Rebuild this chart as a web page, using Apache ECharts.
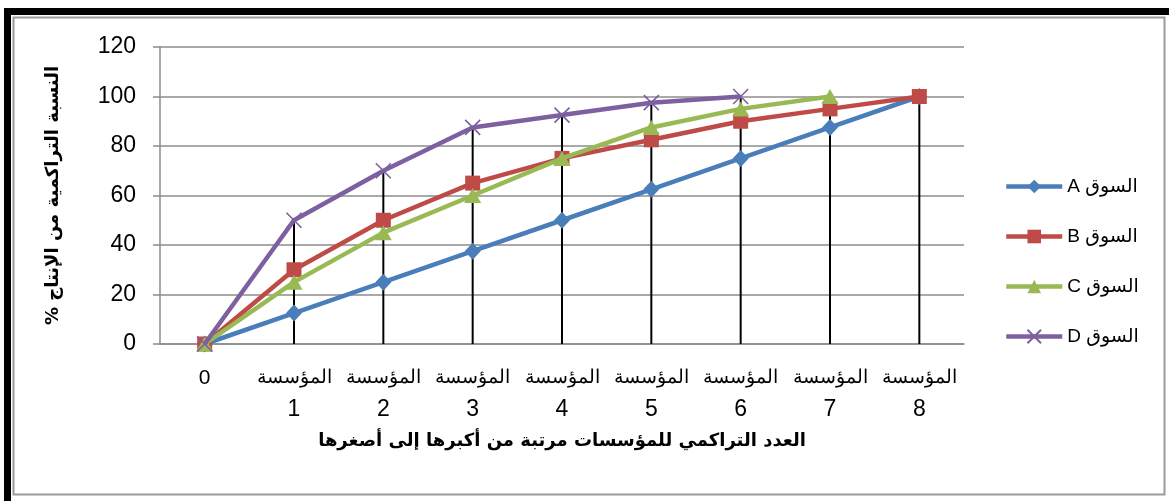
<!DOCTYPE html>
<html>
<head>
<meta charset="utf-8">
<style>
html,body{margin:0;padding:0;background:#fff;}
#chart{width:1169px;height:501px;}
</style>
<script src="https://cdn.jsdelivr.net/npm/echarts@6/dist/echarts.min.js"></script>
</head>
<body>
<div id="chart"></div>
<script>
const categories = ['0', 'المؤسسة\n1', 'المؤسسة\n2', 'المؤسسة\n3', 'المؤسسة\n4', 'المؤسسة\n5', 'المؤسسة\n6', 'المؤسسة\n7', 'المؤسسة\n8'];
const seriesNames = ['السوق A', 'السوق B', 'السوق C', 'السوق D'];
const seriesA = [0, 12.5, 25, 37.5, 50, 62.5, 75, 87.5, 100];
const seriesB = [0, 30, 50, 65, 75, 82.5, 90, 95, 100];
const seriesC = [0, 25, 45, 60, 75, 87.5, 95, 100];
const seriesD = [0, 50, 70, 87.5, 92.5, 97.5, 100];
const yTicks = [0, 20, 40, 60, 80, 100, 120];
const yTitle = 'النسبة التراكمية من الإنتاج %';
const xTitle = 'العدد التراكمي للمؤسسات مرتبة من أكبرها إلى أصغرها';

const allSeries = [seriesA, seriesB, seriesC, seriesD];
const dropData = categories.map((c, i) => {
  const vals = allSeries.map(s => s[i]).filter(v => v !== undefined && v !== null);
  return vals.length ? Math.max.apply(null, vals) : null;
});

const colors = ['#4A7EBB', '#BE4B48', '#98B954', '#7D60A0'];
const symbols = ['diamond', 'rect', 'triangle', 'path://M0,0L10,10M10,0L0,10'];
const symSizes = [[16, 17], 15, [17, 15], 15];
const RLE = '\u202B', PDF = '\u202C';

const chart = echarts.init(document.getElementById('chart'), null, {renderer: 'canvas'});
const lineSeries = allSeries.map((data, k) => ({
  name: seriesNames[k],
  type: 'line',
  data: data,
  z: 3 + k,
  symbol: symbols[k],
  symbolSize: symSizes[k],
  showAllSymbol: true,
  lineStyle: {color: colors[k], width: 4.5},
  itemStyle: k === 3
    ? {color: colors[k], borderColor: colors[k], borderWidth: 1.6}
    : {color: colors[k], borderWidth: 0},
  emphasis: {disabled: true},
  animation: false
}));

chart.setOption({
  animation: false,
  backgroundColor: '#ffffff',
  graphic: [
    {type: 'rect', shape: {x: 4, y: 8, width: 1165, height: 7}, style: {fill: '#000'}, silent: true},
    {type: 'rect', shape: {x: 4, y: 8, width: 7, height: 493}, style: {fill: '#000'}, silent: true},
    {type: 'rect', shape: {x: 13.5, y: 17.5, width: 1151, height: 477}, style: {fill: 'none', stroke: '#9a9a9a', lineWidth: 2}, silent: true}
  ],
  grid: {left: 160, right: 205, top: 47, bottom: 157, containLabel: false},
  legend: {
    orient: 'vertical',
    left: 999,
    top: 172,
    itemWidth: 56,
    itemHeight: 17,
    itemGap: 31,
    data: seriesNames,
    formatter: n => RLE + n + PDF,
    lineStyle: {width: 4.5},
    textStyle: {fontFamily: 'Liberation Sans, DejaVu Sans', fontSize: 19, color: '#000'}
  },
  xAxis: {
    type: 'category',
    data: categories,
    boundaryGap: true,
    axisLine: {show: true, lineStyle: {color: '#8c8c8c', width: 1.5}},
    axisTick: {show: false},
    axisLabel: {
      interval: 0,
      margin: 18,
      color: '#000',
      verticalAlign: 'top',
      formatter: v => {
        const parts = v.split('\n');
        if (parts.length === 1) return '{n0|' + parts[0] + '}';
        return '{w|' + parts[0] + '}\n{n|' + parts[1] + '}';
      },
      rich: {
        w: {fontFamily: 'Liberation Sans', fontSize: 18.5, lineHeight: 32, color: '#000'},
        n: {fontFamily: 'Liberation Sans', fontSize: 23, lineHeight: 32, color: '#000'},
        n0: {fontFamily: 'Liberation Sans', fontSize: 21, lineHeight: 32, color: '#000'}
      }
    },
    name: xTitle,
    nameLocation: 'middle',
    nameGap: 88,
    nameTextStyle: {fontFamily: 'DejaVu Sans', fontWeight: 'bold', fontSize: 18, color: '#000'}
  },
  yAxis: {
    type: 'value',
    min: yTicks[0],
    max: yTicks[yTicks.length - 1],
    interval: yTicks[1] - yTicks[0],
    axisLine: {show: true, lineStyle: {color: '#8c8c8c', width: 1.5}},
    axisTick: {show: true, inside: false, length: 7, lineStyle: {color: '#8c8c8c', width: 1.5}},
    splitLine: {show: true, lineStyle: {color: '#8c8c8c', width: 1.5}},
    axisLabel: {color: '#000', fontFamily: 'Liberation Sans', fontSize: 23, margin: 24},
    name: RLE + yTitle + PDF,
    nameLocation: 'middle',
    nameRotate: 90,
    nameGap: 98,
    nameTextStyle: {fontFamily: 'DejaVu Sans', fontWeight: 'bold', fontSize: 18, color: '#000'}
  },
  series: [{
    name: 'drop',
    type: 'bar',
    data: dropData,
    barWidth: 2,
    z: 1,
    itemStyle: {color: '#000'},
    emphasis: {disabled: true},
    silent: true
  }].concat(lineSeries)
});
</script>
</body>
</html>
